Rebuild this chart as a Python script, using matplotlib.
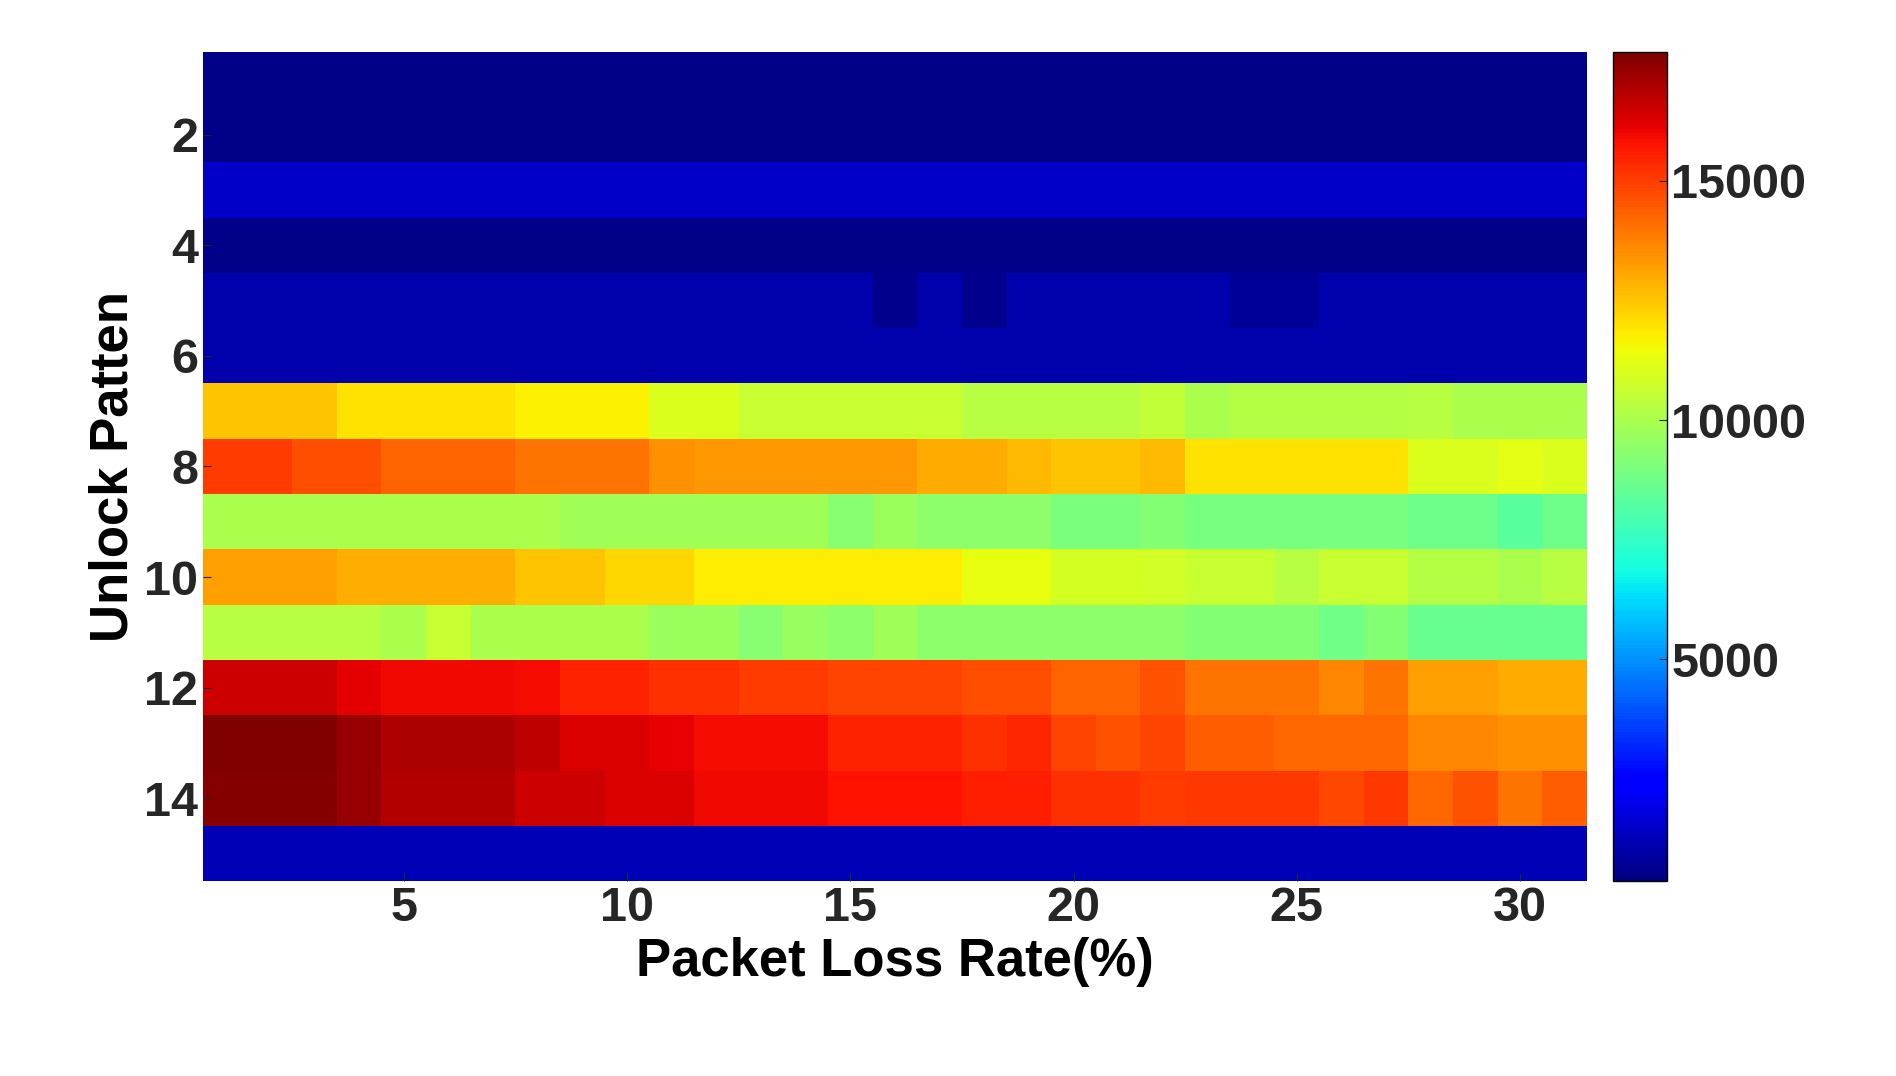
import numpy as np
import matplotlib
matplotlib.use("Agg")
import matplotlib.pyplot as plt

plt.rcParams['font.family'] = ['Liberation Sans', 'DejaVu Sans']
plt.rcParams['font.weight'] = 'bold'

loss_rates = list(range(1, 32))
patterns = list(range(1, 16))

def expand(segs):
    out = []
    for n, v in segs:
        out += [v] * n
    return out

row1 = [500] * 31
row2 = [500] * 31
row3 = [1500] * 31
row4 = [550] * 31
row5 = expand([(15, 1100), (1, 600), (1, 1100), (1, 600), (5, 1100), (2, 700), (6, 1100)])
row6 = [1100] * 31
row7 = expand([(3, 12500), (4, 12000), (3, 11700), (2, 11000), (5, 10600), (4, 10300), (1, 10500),
               (1, 10000), (1, 10200), (3, 10200), (1, 10300), (2, 10000), (1, 10000)])
row8 = expand([(2, 15000), (2, 14700), (3, 14300), (3, 14000), (1, 13500), (5, 13300), (2, 13000),
               (1, 12700), (2, 12500), (1, 12700), (5, 12000), (2, 11000), (1, 11200), (1, 11000)])
row9 = expand([(8, 10000), (6, 9800), (1, 9300), (1, 9700), (3, 9400), (2, 9000), (1, 9200),
               (5, 8900), (2, 8700), (1, 8300), (1, 8700)])
row10 = expand([(3, 13200), (4, 12900), (2, 12500), (2, 12200), (6, 11800), (2, 11300), (2, 10900),
                (1, 10800), (2, 10600), (1, 10300), (2, 10600), (2, 10200), (1, 10000), (1, 10300)])
row11 = expand([(4, 10300), (1, 10000), (1, 10600), (4, 10000), (2, 9700), (1, 9300), (1, 9600),
                (1, 9400), (1, 9800), (6, 9400), (3, 9200), (1, 8800), (1, 9200), (4, 8600)])
row12 = expand([(3, 16500), (1, 16200), (3, 16000), (1, 15900), (2, 15500), (2, 15200), (2, 15000),
                (3, 14900), (2, 14700), (2, 14300), (1, 14600), (3, 14000), (1, 13700), (1, 14000),
                (2, 13200), (2, 13000)])
row13 = expand([(3, 17700), (1, 17300), (3, 17000), (1, 16700), (2, 16300), (1, 16100), (3, 15900),
                (3, 15500), (1, 15200), (1, 15400), (1, 14900), (1, 14600), (1, 14900), (2, 14400),
                (3, 14200), (2, 13700), (2, 13500)])
row14 = expand([(3, 17600), (1, 17300), (3, 16900), (2, 16500), (2, 16300), (3, 16000), (3, 15800),
                (2, 15600), (2, 15200), (1, 15000), (3, 15100), (1, 14800), (1, 15100), (1, 14200),
                (1, 14600), (1, 14000), (1, 14400)])
row15 = [1200] * 31

data = np.array([row1, row2, row3, row4, row5, row6, row7, row8, row9, row10,
                 row11, row12, row13, row14, row15])

fig = plt.figure(figsize=(18.96, 10.76), dpi=100)
ax = fig.add_axes([0.107, 0.181, 0.730, 0.771])
cax = fig.add_axes([0.851, 0.181, 0.028, 0.771])

im = ax.pcolormesh(np.arange(0.5, 32), np.arange(0.5, 16), data, cmap='jet',
                   vmin=360, vmax=17700, shading='flat')
ax.set_xlim(0.5, 31.5)
ax.set_ylim(15.5, 0.5)
ax.set_xticks([5, 10, 15, 20, 25, 30])
ax.set_yticks([2, 4, 6, 8, 10, 12, 14])
ax.tick_params(labelsize=35, direction='in', length=6, colors='#262626')
ax.set_xlabel('Packet Loss Rate(%)', fontsize=38, fontweight='bold')
ax.set_ylabel('Unlock Patten', fontsize=38, fontweight='bold')
for s in ax.spines.values():
    s.set_visible(False)

cb = fig.colorbar(im, cax=cax, ticks=[5000, 10000, 15000])
cb.ax.tick_params(labelsize=35, direction='in', length=6, colors='#262626')
cb.outline.set_linewidth(1)

fig.savefig('out.png', dpi=100)
